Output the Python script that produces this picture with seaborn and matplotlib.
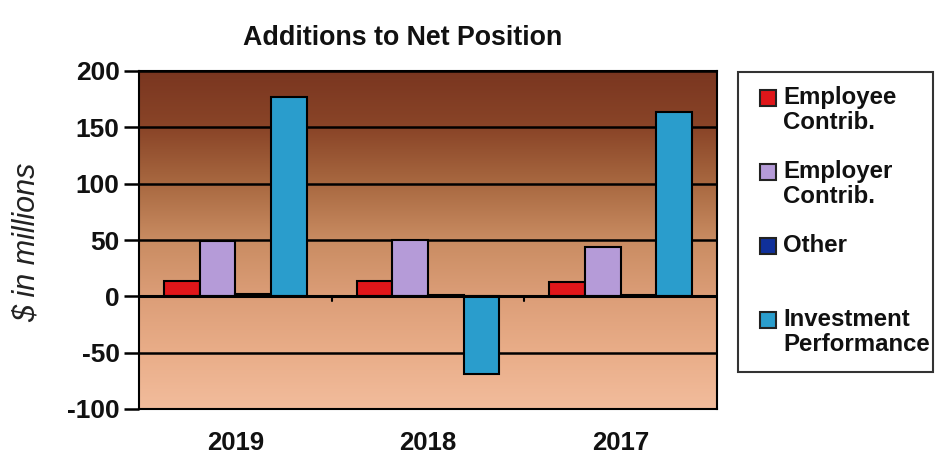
import numpy as np
import pandas as pd
import matplotlib
matplotlib.use("Agg")
import matplotlib.pyplot as plt
from matplotlib.colors import LinearSegmentedColormap
from matplotlib.patches import Rectangle
import seaborn as sns

# ---- data ----
years = ["2019", "2018", "2017"]
series = ["Employee\nContrib.", "Employer\nContrib.", "Other", "Investment\nPerformance"]
employee = [14, 14, 13]
employer = [49, 50, 44]
other = [2, 1, 1]
investment = [177, -69, 164]
yticks = [-100, -50, 0, 50, 100, 150, 200]
colors = ["#e0161a", "#b59bd8", "#10309a", "#2a9dcc"]

df = pd.DataFrame({
    "year": years * 4,
    "series": [s for s in series for _ in years],
    "value": employee + employer + other + investment,
})

sns.set_theme(style="white")
plt.rcParams["font.family"] = ["Liberation Sans", "DejaVu Sans"]

W, H = 938, 462
fig = plt.figure(figsize=(W / 100, H / 100), dpi=100)
fig.patch.set_facecolor("white")
ax = fig.add_axes([139 / W, 1 - 409 / H, (717 - 139) / W, (409 - 71) / H])

sns.barplot(data=df, x="year", y="value", hue="series", order=years,
            hue_order=series, palette=colors, width=0.74, saturation=1,
            edgecolor="black", linewidth=1.5, ax=ax, legend=False, zorder=3)

# background gradient
stops = [(0.0, "#f2bc9c"), (0.17, "#e9ad88"), (0.33, "#dc9e78"), (0.5, "#c98c62"),
         (0.67, "#a86840"), (0.83, "#8a4528"), (1.0, "#7a3620")]
cmap = LinearSegmentedColormap.from_list("bg", stops)
grad = np.linspace(0, 1, 256).reshape(-1, 1)
ax.imshow(grad, cmap=cmap, origin="lower", aspect="auto", extent=[0, 1, 0, 1],
          transform=ax.transAxes, zorder=0, interpolation="bilinear")
ax.patch.set_visible(False)

ax.set_ylim(yticks[0], yticks[-1])
ax.set_xlim(-0.5, len(years) - 0.5)
ax.set_yticks(yticks)
ax.set_yticklabels([str(t) for t in yticks], fontsize=19, fontweight="bold", color="#111111")
ax.set_xticklabels(years, fontsize=18.5, fontweight="bold", color="#111111")
ax.tick_params(axis="y", length=11, width=1.8, color="black", pad=3, left=True)
ax.tick_params(axis="x", length=0, pad=16)
ax.set_xlabel("")
ax.set_ylabel("")
for t in yticks:
    ax.axhline(t, color="black", lw=1.8, zorder=1)
ax.axhline(0, color="black", lw=2.2, zorder=4)
for b in np.arange(len(years) - 1) + 0.5:
    ax.plot([b, b], [0, -4], color="black", lw=1.5, zorder=4)
for sp in ax.spines.values():
    sp.set_visible(True)
    sp.set_color("black")
    sp.set_linewidth(1.5)

fig.text(403 / W, 1 - 38 / H, "Additions to Net Position", ha="center", va="center",
         fontsize=19.3, fontweight="bold", color="#111111")
fig.text(27 / W, 1 - 242 / H, "$ in millions", rotation=90, ha="center", va="center",
         fontsize=22, fontstyle="italic", color="#222222")

# legend (manual, figure pixels)
fig.add_artist(Rectangle((738 / W, 1 - 372 / H), (933 - 738) / W, (372 - 72) / H,
                         transform=fig.transFigure, facecolor="white",
                         edgecolor="#333333", lw=1.5))
for i, (lab, col) in enumerate(zip(series, colors)):
    cap_top = 90 + i * 74
    fig.add_artist(Rectangle((760 / W, 1 - (cap_top + 16) / H), 16 / W, 16 / H,
                             transform=fig.transFigure, facecolor=col,
                             edgecolor="#222222", lw=1.5))
    fig.text(783 / W, 1 - (cap_top - 4) / H, lab, ha="left", va="top",
             fontsize=17.3, fontweight="bold", color="#111111", linespacing=1.12)

fig.savefig("out.png", dpi=100, facecolor="white")
